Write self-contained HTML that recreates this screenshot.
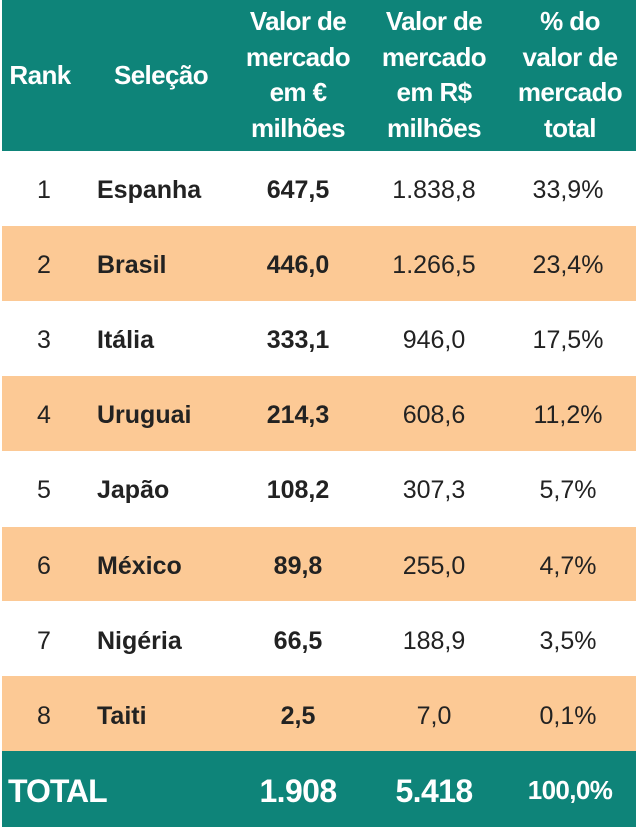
<!DOCTYPE html>
<html><head><meta charset="utf-8"><style>
body{margin:0;width:640px;height:829px;background:#fff;font-family:"Liberation Sans",Arial,sans-serif;position:relative;overflow:hidden}
.band{position:absolute;left:2px;width:634px}
.t{position:absolute;text-align:center;transform:translateX(-50%);white-space:nowrap}
.h{color:#fff;font-weight:bold;font-size:26px;line-height:35.5px;letter-spacing:-0.6px}
.c{font-size:25px;color:#222;line-height:28px}
.b{font-weight:bold}
</style></head><body>
<div class="band" style="top:0;height:151px;background:#0e8479"></div>
<div class="band" style="top:226px;height:75px;background:#fcc995"></div>
<div class="band" style="top:376px;height:75px;background:#fcc995"></div>
<div class="band" style="top:527px;height:74px;background:#fcc995"></div>
<div class="band" style="top:676px;height:75px;background:#fcc995"></div>
<div class="band" style="top:751px;height:76px;background:#0e8479"></div>

<div class="t h" style="left:40px;top:58px">Rank</div>
<div class="t h" style="left:161px;top:58px">Seleção</div>
<div class="t h" style="left:298px;top:4px">Valor de<br>mercado<br>em €<br>milhões</div>
<div class="t h" style="left:434px;top:4px">Valor de<br>mercado<br>em R$<br>milhões</div>
<div class="t h" style="left:570px;top:4px">% do<br>valor de<br>mercado<br>total</div>

<div id="rows"></div>
<script>
var d=[["1","Espanha","647,5","1.838,8","33,9%"],["2","Brasil","446,0","1.266,5","23,4%"],["3","Itália","333,1","946,0","17,5%"],["4","Uruguai","214,3","608,6","11,2%"],["5","Japão","108,2","307,3","5,7%"],["6","México","89,8","255,0","4,7%"],["7","Nigéria","66,5","188,9","3,5%"],["8","Taiti","2,5","7,0","0,1%"]];
var h="";
d.forEach(function(r,i){var y=176+i*75.1;
h+='<div class="t c" style="left:44px;top:'+y+'px">'+r[0]+'</div>';
h+='<div class="c b" style="position:absolute;left:97px;top:'+y+'px">'+r[1]+'</div>';
h+='<div class="t c b" style="left:298px;top:'+y+'px">'+r[2]+'</div>';
h+='<div class="t c" style="left:434px;top:'+y+'px">'+r[3]+'</div>';
h+='<div class="t c" style="left:568px;top:'+y+'px">'+r[4]+'</div>';});
document.getElementById("rows").innerHTML=h;
</script>
<div class="h" style="position:absolute;left:8px;top:774px;font-size:32px;line-height:34px;letter-spacing:-1px">TOTAL</div>
<div class="t h" style="left:298px;top:774px;font-size:32px;line-height:34px">1.908</div>
<div class="t h" style="left:434px;top:774px;font-size:32px;line-height:34px">5.418</div>
<div class="t h" style="left:570px;top:775px;font-size:26px;line-height:30px">100,0%</div>
</body></html>
